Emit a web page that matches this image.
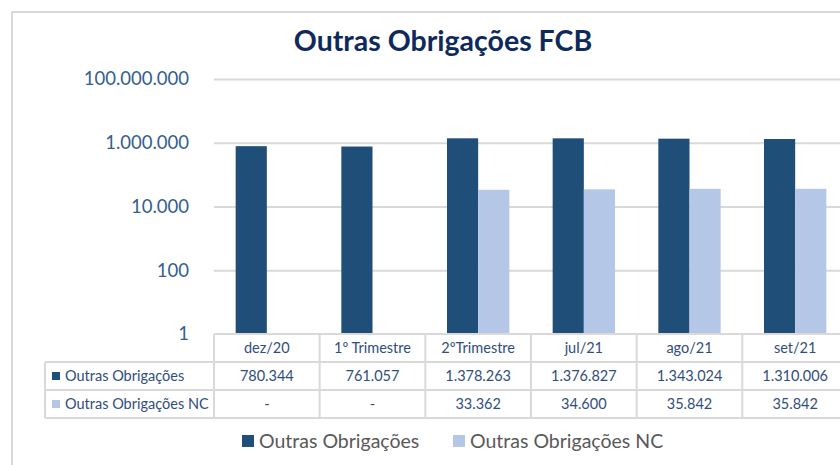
<!DOCTYPE html>
<html>
<head>
<meta charset="utf-8">
<script src="https://cdn.jsdelivr.net/npm/d3@7"></script>
<style>
  body { margin: 0; background: #fff; }
  text { font-family: Lato, 'Open Sans', sans-serif; }
</style>
</head>
<body>
<div id="chart"></div>
<script>
const categories = ['dez/20', '1º Trimestre', '2ºTrimestre', 'jul/21', 'ago/21', 'set/21']
const seriesNames = ['Outras Obrigações', 'Outras Obrigações NC']
const obrigacoes = [780344, 761057, 1378263, 1376827, 1343024, 1310006]
const obrigacoesNC = [null, null, 33362, 34600, 35842, 35842]
const yTicks = [1, 100, 10000, 1000000, 100000000]

const colors = ['#1F4E79', '#B4C7E7']
const width = 840
const height = 465

const svg = d3
  .select('#chart')
  .append('svg')
  .attr('width', width)
  .attr('height', height)

// chart frame
svg
  .append('rect')
  .attr('x', 12)
  .attr('y', 12)
  .attr('width', 900)
  .attr('height', 500)
  .attr('fill', 'none')
  .attr('stroke', '#d9d9d9')
  .attr('stroke-width', 2)

svg
  .append('text')
  .attr('x', 443)
  .attr('y', 51)
  .attr('text-anchor', 'middle')
  .attr('font-size', 28.5)
  .attr('font-weight', 'bold')
  .attr('fill', '#0E2A5C')
  .text('Outras Obrigações FCB')

// scales
const xScale = d3
  .scaleBand()
  .domain(categories)
  .range([214, 848])

const yScale = d3
  .scaleLog()
  .domain([1, 100000000])
  .range([334, 79])

const groupWidth = xScale.bandwidth() * 0.59
const xSeries = d3
  .scaleBand()
  .domain(seriesNames)
  .range([0, groupWidth])

const fmt = d3.formatLocale({ decimal: ',', thousands: '.', grouping: [3], currency: ['R$', ''] }).format(',d')

// gridlines + y labels
const yAxis = d3
  .axisLeft(yScale)
  .tickValues(yTicks)
  .tickFormat(fmt)
  .tickSize(-(848 - 214))
  .tickPadding(25)

const yG = svg
  .append('g')
  .attr('class', 'axis y-axis')
  .attr('transform', 'translate(214,0)')
  .call(yAxis)

yG.select('.domain').remove()
yG.selectAll('line').attr('stroke', '#d9d9d9').attr('stroke-width', 2)
yG.selectAll('text')
  .attr('font-size', 18.5)
  .attr('fill', '#34608F')
  .attr('font-family', 'Lato, sans-serif')
yG.selectAll('.tick').filter(d => d === 1).select('line').remove()

// bars
const seriesData = [obrigacoes, obrigacoesNC]
seriesData.forEach(function(values, i) {
  svg
    .selectAll('.bar-' + i)
    .data(values.map((v, j) => ({ cat: categories[j], value: v })).filter(d => d.value))
    .enter()
    .append('rect')
    .attr('class', 'bar-' + i)
    .attr('x', d => xScale(d.cat) + (xScale.bandwidth() - groupWidth) / 2 + xSeries(seriesNames[i]))
    .attr('y', d => yScale(d.value))
    .attr('width', xSeries.bandwidth())
    .attr('height', d => yScale(1) - yScale(d.value))
    .attr('fill', colors[i])
})

// data table
const rowTop = 334
const rowH = 28
const labelLeft = 45
const tableColor = '#d9d9d9'
const tableText = '#2F4E7C'
const tableFont = 14.5
const table = svg.append('g').attr('class', 'table')

// horizontal lines
table.append('line').attr('x1', 214).attr('x2', 848).attr('y1', rowTop).attr('y2', rowTop)
;[1, 2, 3].forEach(function(r) {
  table
    .append('line')
    .attr('x1', labelLeft)
    .attr('x2', 848)
    .attr('y1', rowTop + r * rowH)
    .attr('y2', rowTop + r * rowH)
})
// vertical lines
table.append('line').attr('x1', labelLeft).attr('x2', labelLeft).attr('y1', rowTop + rowH).attr('y2', rowTop + 3 * rowH)
categories.forEach(function(c) {
  table
    .append('line')
    .attr('x1', xScale(c))
    .attr('x2', xScale(c))
    .attr('y1', rowTop)
    .attr('y2', rowTop + 3 * rowH)
})
table.selectAll('line').attr('stroke', tableColor).attr('stroke-width', 2)

// header labels
table
  .selectAll('.cat')
  .data(categories)
  .enter()
  .append('text')
  .attr('x', d => xScale(d) + xScale.bandwidth() / 2)
  .attr('y', rowTop + rowH / 2 + 5)
  .attr('text-anchor', 'middle')
  .attr('font-size', tableFont)
  .attr('fill', tableText)
  .text(d => d)

seriesData.forEach(function(values, i) {
  const y = rowTop + (i + 1) * rowH
  table
    .append('rect')
    .attr('x', 52)
    .attr('y', y + rowH / 2 - 4)
    .attr('width', 8)
    .attr('height', 8)
    .attr('fill', colors[i])
  table
    .append('text')
    .attr('x', 65)
    .attr('y', y + rowH / 2 + 5)
    .attr('font-size', tableFont)
    .attr('fill', tableText)
    .text(seriesNames[i])
  table
    .selectAll('.val-' + i)
    .data(values)
    .enter()
    .append('text')
    .attr('x', (d, j) => xScale(categories[j]) + xScale.bandwidth() / 2)
    .attr('y', y + rowH / 2 + 5)
    .attr('text-anchor', 'middle')
    .attr('font-size', tableFont)
    .attr('fill', tableText)
    .text(d => (d ? fmt(d) : '-'))
})

// legend
const legendX = [242, 453]
seriesNames.forEach(function(name, i) {
  const g = svg.append('g').attr('transform', 'translate(' + legendX[i] + ',435)')
  g.append('rect').attr('width', 12).attr('height', 12).attr('fill', colors[i])
  g.append('text')
    .attr('x', 17)
    .attr('y', 13)
    .attr('font-size', 19.5)
    .attr('fill', '#595959')
    .text(name)
})
</script>
</body>
</html>
